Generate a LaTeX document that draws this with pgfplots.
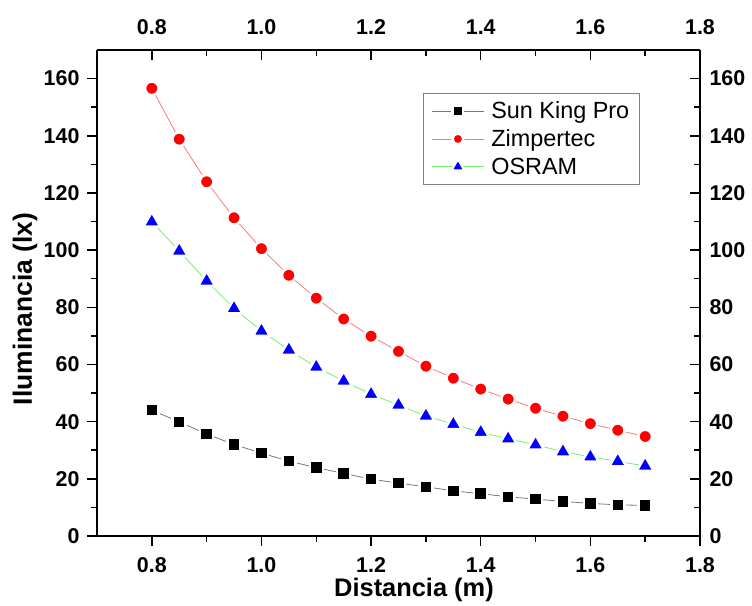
\documentclass[border=0pt]{standalone}
\usepackage{fontspec}
\setmainfont{Liberation Sans}
\usepackage{pgfplots}
\pgfplotsset{compat=1.18}
\definecolor{lgray}{RGB}{120,120,120}
\definecolor{lred}{RGB}{255,120,120}
\definecolor{lgreen}{RGB}{110,240,110}
\pgfplotsset{
  common/.style={
    scale only axis, width=603bp, height=486bp,
    xmin=0.7, xmax=1.8, ymin=0, ymax=170,
    xtick={0.8,1.0,...,1.8}, minor x tick num=1,
    ytick={0,20,...,160}, minor y tick num=1,
    axis line style={line width=1.5bp, black},
    every tick/.style={line width=1.5bp, black},
    major tick length=10bp, minor tick length=6bp,
    /pgf/number format/assume math mode=true,
    ticklabel style={font=\bfseries\fontsize{21.5}{21.5}\selectfont},
    xticklabel style={/pgf/number format/fixed, /pgf/number format/fixed zerofill, /pgf/number format/precision=1},
    yticklabel style={/pgf/number format/fixed, /pgf/number format/precision=0},
  }
}
\begin{document}
\begin{tikzpicture}
\useasboundingbox (-97bp,-70bp) rectangle (655bp,536bp);
\begin{axis}[common, at={(0,0)}, anchor=south west,
  axis x line*=bottom, axis y line*=left, tick align=outside,
  xticklabel style={yshift=-8bp},
  yticklabel style={xshift=-4bp},
  xlabel={Distancia (m)}, ylabel={Iluminancia (lx)},
  xlabel style={font=\bfseries\fontsize{25.5}{25.5}\selectfont, at={(axis description cs:0.5257,-0.111)}, anchor=center},
  ylabel style={font=\bfseries\fontsize{26.5}{26.5}\selectfont, at={(axis description cs:-0.1194,0.467)}, anchor=center},
  legend style={at={(axis description cs:0.541,0.9115)}, anchor=north west, draw=gray, line width=0.6bp,
    font=\fontsize{23.5}{28}\selectfont, inner xsep=8bp, inner ysep=6.5bp, row sep=5.5bp, cells={anchor=west}},
  legend image code/.code={\draw[mark repeat=2, mark phase=2, every mark/.append style={scale=0.8}] plot coordinates {(0bp,0bp) (26bp,0bp) (52bp,0bp)}; \path (57bp,0bp);},
]
\addplot[lgray, line width=0.8bp, mark=square*, mark size=6.5bp, mark options={fill=black, draw=white, line width=2.5bp, solid}] coordinates {
(0.80,44.0) (0.85,39.9) (0.90,35.7) (0.95,32.0) (1.00,29.0) (1.05,26.2) (1.10,23.9) (1.15,21.9) (1.20,19.9) (1.25,18.5)
(1.30,17.2) (1.35,15.8) (1.40,14.8) (1.45,13.7) (1.50,12.9) (1.55,12.1) (1.60,11.4) (1.65,10.9) (1.70,10.7)};
\addlegendentry{Sun King Pro}
\addplot[lred, line width=0.8bp, mark=*, mark size=6.8bp, mark options={fill=red, draw=white, line width=2.5bp, solid}] coordinates {
(0.80,156.6) (0.85,138.8) (0.90,123.9) (0.95,111.3) (1.00,100.5) (1.05,91.2) (1.10,83.2) (1.15,75.9) (1.20,69.9) (1.25,64.6)
(1.30,59.4) (1.35,55.2) (1.40,51.4) (1.45,47.9) (1.50,44.7) (1.55,41.9) (1.60,39.3) (1.65,37.0) (1.70,34.8)};
\addlegendentry{Zimpertec}
\addplot[lgreen, line width=0.8bp, mark=triangle*, mark size=9.8bp, mark options={fill=blue, draw=white, line width=2.5bp, line join=round, solid}] coordinates {
(0.80,109.9) (0.85,99.7) (0.90,89.2) (0.95,79.6) (1.00,71.7) (1.05,65.1) (1.10,59.1) (1.15,54.2) (1.20,49.6) (1.25,45.8)
(1.30,42.0) (1.35,39.1) (1.40,36.3) (1.45,34.0) (1.50,31.9) (1.55,29.5) (1.60,27.7) (1.65,26.1) (1.70,24.5)};
\addlegendentry{OSRAM}
\end{axis}
\begin{axis}[common, at={(0,0)}, anchor=south west,
  axis x line*=top, axis y line*=right, tick align=inside,
  xticklabel style={yshift=12bp},
  yticklabel style={xshift=6bp},
]
\end{axis}
\end{tikzpicture}
\end{document}
